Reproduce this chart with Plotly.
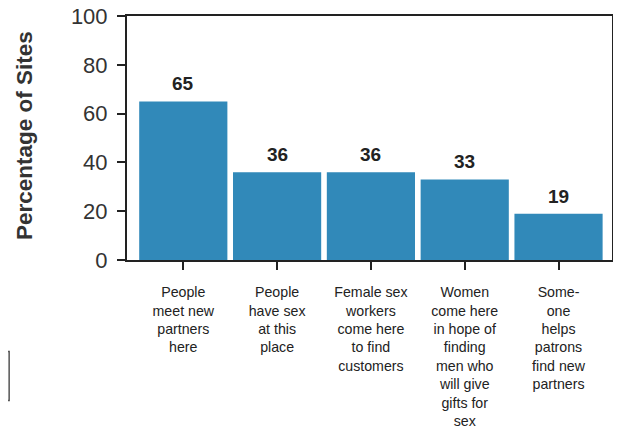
import plotly.graph_objects as go

# data
categories = [
    "People<br>meet new<br>partners<br>here",
    "People<br>have sex<br>at this<br>place",
    "Female sex<br>workers<br>come here<br>to find<br>customers",
    "Women<br>come here<br>in hope of<br>finding<br>men who<br>will give<br>gifts for<br>sex",
    "Some-<br>one<br>helps<br>patrons<br>find new<br>partners",
]
percentages = [65, 36, 36, 33, 19]
y_ticks = [0, 20, 40, 60, 80, 100]
y_title = "Percentage of Sites"

FONT = "Liberation Sans, Arial, sans-serif"
BAR_COLOR = "#3189b9"
INK = "#222222"

fig = go.Figure()
fig.add_trace(go.Bar(
    x=list(range(len(categories))),
    y=percentages,
    marker=dict(color=BAR_COLOR, line=dict(width=0)),
    width=0.94,
    hoverinfo="skip",
))

# value labels above each bar
for i, v in enumerate(percentages):
    fig.add_annotation(
        x=i, y=v, text=f"<b>{v}</b>", showarrow=False,
        yanchor="bottom", yshift=5,
        font=dict(family=FONT, size=19, color=INK),
    )

# y-axis title as an annotation so it can sit exactly where the reference has it
fig.add_annotation(
    xref="paper", yref="paper", x=0, y=0.5,
    xanchor="center", yanchor="middle", xshift=-103, yshift=2,
    text=f"<b>{y_title}</b>", textangle=-90, showarrow=False,
    font=dict(family=FONT, size=22.5, color="#333333"),
)

fig.update_xaxes(
    range=[-0.6, 4.57],
    tickmode="array",
    tickvals=list(range(len(categories))),
    ticktext=categories,
    ticks="outside", ticklen=8, tickwidth=1.5, tickcolor=INK,
    showline=True, linecolor=INK, linewidth=2, mirror=True,
    showgrid=False, zeroline=False, automargin=False,
    tickfont=dict(family=FONT, size=14.2, color=INK),
    ticklabelstandoff=10, ticklabeloverflow="allow",
)
fig.update_yaxes(
    range=[0, 100],
    tickmode="array",
    tickvals=y_ticks,
    ticks="outside", ticklen=8, tickwidth=1.5, tickcolor=INK,
    showline=True, linecolor=INK, linewidth=2, mirror=True,
    showgrid=False, zeroline=False, automargin=False,
    tickfont=dict(family=FONT, size=22, color="#333333"),
    ticklabelstandoff=5, ticklabeloverflow="allow",
)

# leftover frame edge at the bottom-left corner of the source image
fig.add_shape(
    type="rect", xref="paper", yref="paper",
    x0=-0.275, x1=-0.243, y0=-0.5755, y1=-0.3755,
    line=dict(color="#555555", width=1.5),
)

# page body adds an 8px offset, so shift the plot area to match the window
fig.update_layout(
    width=613, height=427,
    margin=dict(l=119, r=9, t=8, b=175),
    plot_bgcolor="white", paper_bgcolor="white",
    showlegend=False,
)

fig.write_html("out.html")
